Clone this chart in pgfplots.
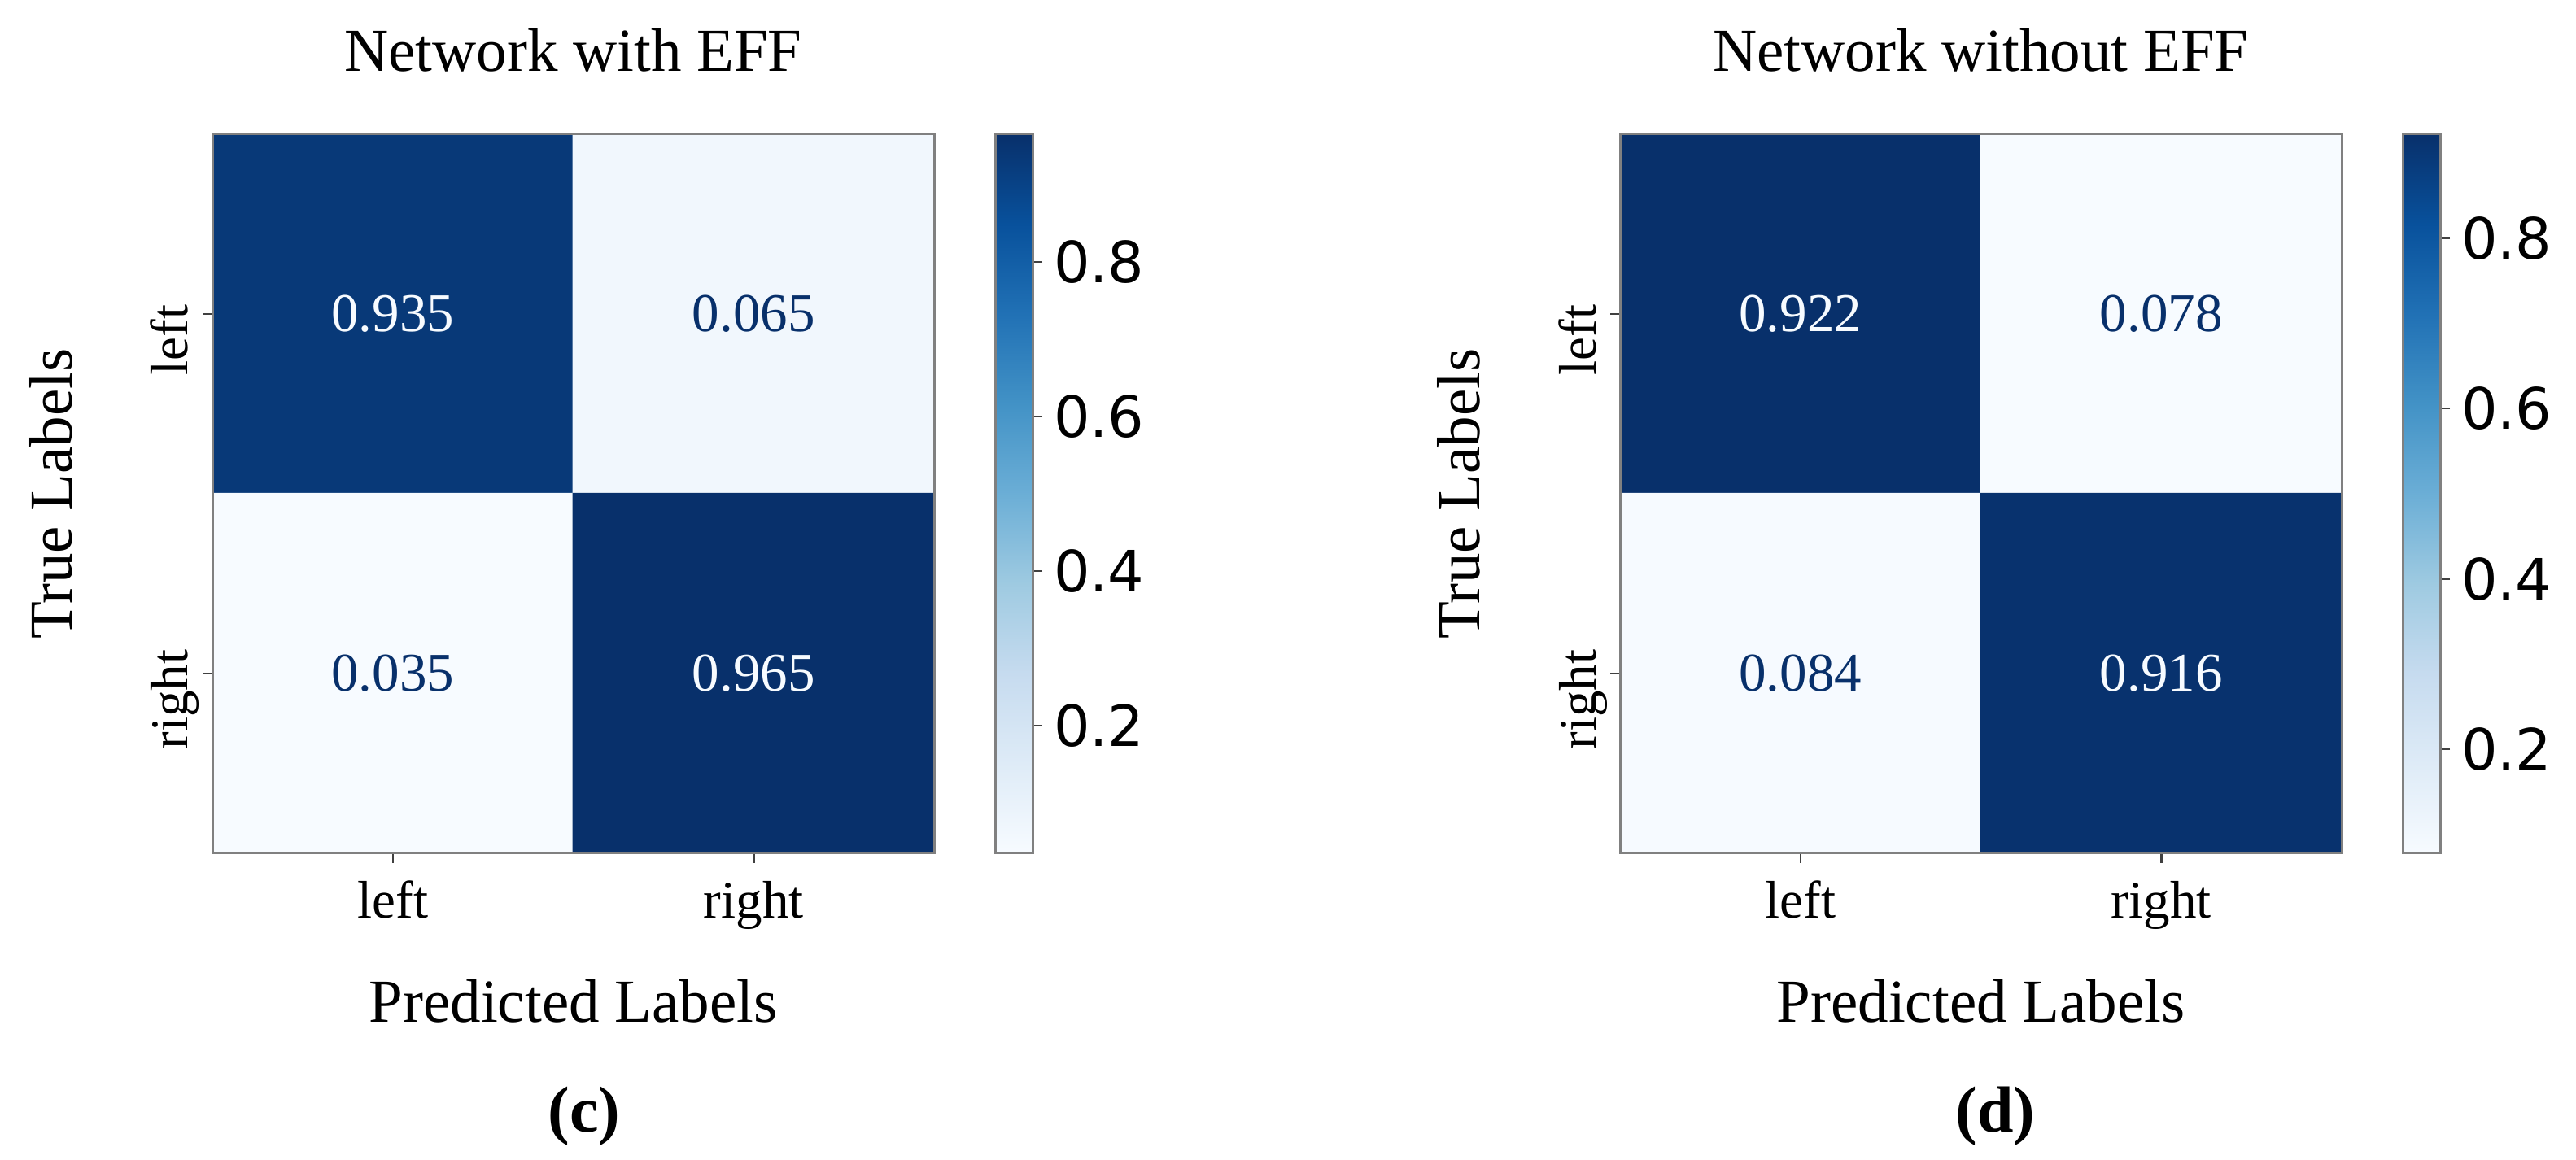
\documentclass[border=0pt]{standalone}
\usepackage{fontspec}
\setmainfont{Liberation Serif}
\newfontfamily\cbfont{DejaVu Sans}
\usepackage{pgfplots}
\pgfplotsset{compat=1.18}

\definecolor{celllo}{RGB}{247,251,255}
\definecolor{cellhi}{RGB}{8,48,107}
\definecolor{framegray}{RGB}{128,128,128}

\newcommand{\lblfont}{\fontsize{15}{15}\selectfont}
\newcommand{\tickfont}{\fontsize{13}{13}\selectfont}
\newcommand{\cellfont}{\fontsize{13.4}{13.4}\selectfont}

\pgfplotsset{
  cmat/.style={
    scale only axis, width=177.4pt, height=176.8pt,
    xmin=-0.5, xmax=1.5, ymin=-0.5, ymax=1.5, y dir=reverse,
    enlargelimits=false, clip=false, axis on top,
    xtick={0,1}, ytick={0,1},
    xticklabels={left,right}, yticklabels={left,right},
    tick align=outside, major tick length=2.4pt,
    tick style={black!75, line width=0.5pt},
    xtick pos=bottom, ytick pos=left,
    axis line style={framegray, line width=0.6pt},
    xticklabel style={font=\tickfont, inner sep=0pt, anchor=base, yshift=-13.6pt},
    yticklabel style={font=\tickfont, inner sep=0pt, xshift=-3.6pt, yshift=-6.4pt, rotate=90, anchor=base},
    xlabel style={at={(axis description cs:0.5,-0.235)}, anchor=base, inner sep=0pt, font=\lblfont},
    ylabel style={at={(axis description cs:-0.195,0.5)}, anchor=base, inner sep=0pt, font=\lblfont},
    xlabel={Predicted Labels}, ylabel={True Labels},
    colormap={blues}{rgb255=(247,251,255) rgb255=(222,235,247) rgb255=(198,219,239)
      rgb255=(158,202,225) rgb255=(107,174,214) rgb255=(66,146,198)
      rgb255=(33,113,181) rgb255=(8,81,156) rgb255=(8,48,107)},
    colorbar,
    colorbar shift/.style={xshift=15pt},
    colorbar style={
      at={(parent axis.north east)}, anchor=north west,
      scale only axis, width=9.2pt, height=176.8pt,
      axis line style={framegray, line width=0.6pt},
      ytick={0.2,0.4,0.6,0.8}, ytick pos=right, yticklabel pos=right,
      tick align=outside, major tick length=2.4pt,
      tick style={black!75, line width=0.5pt},
      yticklabel style={font=\cbfont\fontsize{14}{14}\selectfont, inner sep=0pt, xshift=2.6pt,
        /pgf/number format/assume math mode=true,
        /pgf/number format/fixed, /pgf/number format/precision=1},
    },
  },
  lightnum/.style={draw=none, mark=none, nodes near coords, point meta=explicit symbolic,
    nodes near coords style={anchor=center, font=\cellfont, text=celllo}},
  darknum/.style={draw=none, mark=none, nodes near coords, point meta=explicit symbolic,
    nodes near coords style={anchor=center, font=\cellfont, text=cellhi}},
}

\begin{document}
\begin{tikzpicture}

% (c) network with EFF
\begin{axis}[cmat, at={(52.2pt,252.2pt)}, anchor=north west,
  point meta min=0.035, point meta max=0.965]
\addplot[matrix plot*, mesh/cols=2, point meta=explicit] table[meta=v] {
x y v
0 0 0.935
1 0 0.065
0 1 0.035
1 1 0.965
};
\addplot[lightnum] table[meta=v] {
x y v
0 0 0.935
1 1 0.965
};
\addplot[darknum] table[meta=v] {
x y v
1 0 0.065
0 1 0.035
};
\node[font=\lblfont, anchor=base, inner sep=0pt] at (axis description cs:0.5,1.0871) {Network with EFF};
\node[font=\bfseries\fontsize{16}{16}\selectfont, anchor=base, inner sep=0pt] at (axis description cs:0.515,-0.388) {(c)};
\end{axis}

% (d) network without EFF
\begin{axis}[cmat, at={(398.2pt,252.2pt)}, anchor=north west,
  point meta min=0.078, point meta max=0.922]
\addplot[matrix plot*, mesh/cols=2, point meta=explicit] table[meta=v] {
x y v
0 0 0.922
1 0 0.078
0 1 0.084
1 1 0.916
};
\addplot[lightnum] table[meta=v] {
x y v
0 0 0.922
1 1 0.916
};
\addplot[darknum] table[meta=v] {
x y v
1 0 0.078
0 1 0.084
};
\node[font=\lblfont, anchor=base, inner sep=0pt] at (axis description cs:0.5,1.0871) {Network without EFF};
\node[font=\bfseries\fontsize{16}{16}\selectfont, anchor=base, inner sep=0pt] at (axis description cs:0.52,-0.388) {(d)};
\end{axis}

\pgfresetboundingbox
\useasboundingbox (0,0) rectangle (633.2pt,285.2pt);
\end{tikzpicture}
\end{document}
